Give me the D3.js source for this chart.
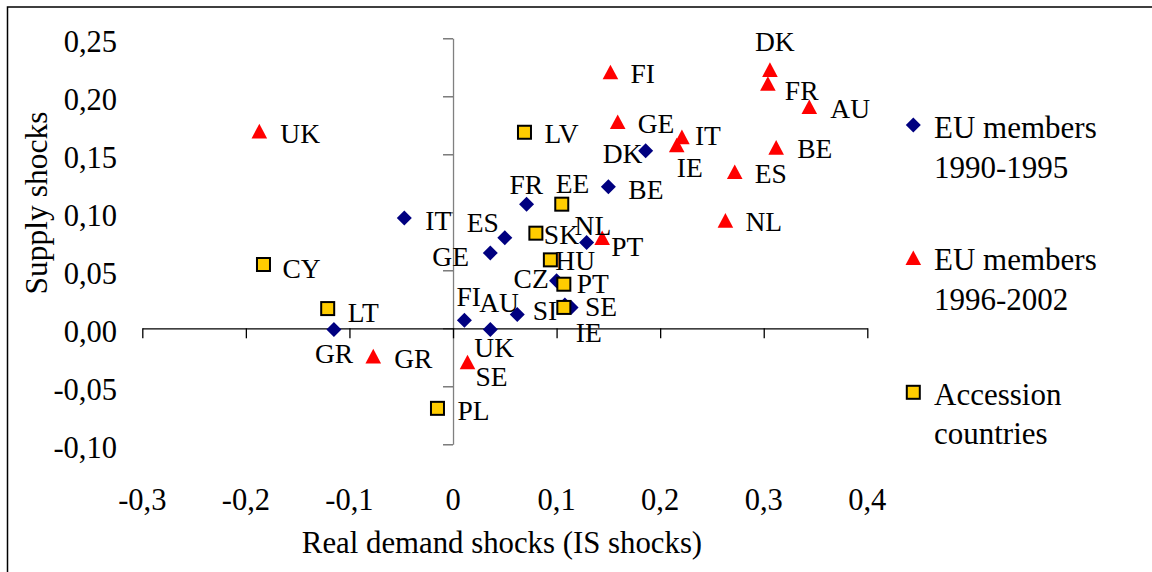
<!DOCTYPE html>
<html>
<head>
<meta charset="utf-8">
<script src="https://cdn.jsdelivr.net/npm/d3@7"></script>
<style>
  html, body { margin: 0; padding: 0; background: #fff; }
  svg { display: block; }
  text { font-family: "Liberation Serif", "Times New Roman", serif; fill: #000; }
</style>
</head>
<body>
<svg id="chart" width="1152" height="572"></svg>
<script>
// ---------- DATA ----------
const xTickValues = [-0.3, -0.2, -0.1, 0, 0.1, 0.2, 0.3, 0.4];
const yTickValues = [0.25, 0.20, 0.15, 0.10, 0.05, 0.00, -0.05, -0.10];

const seriesNames = ["EU members 1990-1995", "EU members 1996-2002", "Accession countries"];

// EU members 1990-1995 (diamonds)
const eu9095Countries = ["IT", "GR", "DK", "BE", "FR", "ES", "GE", "NL", "CZ", "IE", "SE", "FI", "AU", "UK"];
const eu9095Demand    = [-0.047, -0.115, 0.186, 0.150, 0.071, 0.050, 0.036, 0.129, 0.100, 0.108, 0.114, 0.011, 0.062, 0.036];
const eu9095Supply    = [0.095, -0.001, 0.153, 0.122, 0.107, 0.078, 0.065, 0.074, 0.041, 0.020, 0.018, 0.007, 0.012, -0.001];

// EU members 1996-2002 (triangles)
const eu9602Countries = ["UK", "GR", "SE", "FI", "DK", "FR", "AU", "GE", "IT", "IE", "BE", "ES", "NL", "PT"];
const eu9602Demand    = [-0.187, -0.077, 0.014, 0.152, 0.306, 0.304, 0.344, 0.159, 0.221, 0.216, 0.312, 0.272, 0.263, 0.144];
const eu9602Supply    = [0.170, -0.024, -0.029, 0.221, 0.223, 0.211, 0.191, 0.178, 0.165, 0.158, 0.156, 0.135, 0.093, 0.078];

// Accession countries (squares)
const accCountries = ["LV", "EE", "SK", "HU", "PT", "SI", "CY", "LT", "PL"];
const accDemand    = [0.069, 0.105, 0.080, 0.094, 0.107, 0.107, -0.183, -0.121, -0.015];
const accSupply    = [0.169, 0.107, 0.082, 0.059, 0.038, 0.018, 0.055, 0.017, -0.069];

// ---------- LAYOUT (label placement, separate from data) ----------
const eu9095LabelOffsets = [[21,12],[-19,34],[-43,12],[20,12],[-17,-10],[-38,-6],[-58,13],[-12,-7],[-43,7],[11,37],[14,9],[-8,-14],[-38,-2],[-16,28]];
const eu9602LabelOffsets = [[21,12],[21,12],[8,24],[20,11],[-15,-19],[17,16],[21,11],[20,11],[13,8],[0,32],[21,11],[20,11],[20,11],[9,18]];
const accLabelOffsets    = [[20,11],[-6,-11],[8,11],[5,10],[13,9],[-31,13],[19,13],[20,13],[20,12]];

// ---------- CHART ----------
const svg = d3.select("#chart");
const x = d3.scaleLinear().domain([-0.3, 0.4]).range([142.3, 867.3]);
const y = d3.scaleLinear().domain([-0.1, 0.25]).range([444.3, 38.3]);

const loc = d3.formatLocale({decimal: ",", thousands: ".", grouping: [3], currency: ["", ""], minus: "-"});
const fmtX = loc.format(".1~f");
const fmtY = loc.format(".2f");

// outer frame (only top and left edges visible)
svg.append("path")
  .attr("d", "M7.5,572 L7.5,7 L1152,7")
  .attr("fill", "none").attr("stroke", "#000").attr("stroke-width", 1.5);

// Y axis (through x = 0)
const yAxisG = svg.append("g")
  .attr("transform", `translate(${x(0)},0)`)
  .call(d3.axisLeft(y).tickValues(yTickValues).tickSize(10).tickSizeOuter(0).tickFormat(""));
yAxisG.select(".domain").attr("stroke", "#808080").attr("stroke-width", 1.3);
yAxisG.selectAll(".tick line").attr("stroke", "#666").attr("stroke-width", 1.3);

// X axis (through y = 0)
const xAxisG = svg.append("g")
  .attr("transform", `translate(0,${y(0)})`)
  .call(d3.axisBottom(x).tickValues(xTickValues).tickSize(10).tickSizeOuter(0).tickFormat(""));
xAxisG.select(".domain").attr("stroke", "#000").attr("stroke-width", 1.3);
xAxisG.selectAll(".tick line").attr("stroke", "#000").attr("stroke-width", 1.3);

// Tick labels
svg.append("g").selectAll("text").data(yTickValues).join("text")
  .attr("x", 117).attr("y", d => y(d) + 13.4)
  .attr("text-anchor", "end").attr("font-size", 30.5)
  .text(d => fmtY(d));

svg.append("g").selectAll("text").data(xTickValues).join("text")
  .attr("x", d => x(d)).attr("y", 510)
  .attr("text-anchor", "middle").attr("font-size", 30.5)
  .text(d => fmtX(d));

// Axis titles
svg.append("text").attr("x", 502).attr("y", 553).attr("text-anchor", "middle")
  .attr("font-size", 30.8).text("Real demand shocks (IS shocks)");
svg.append("text").attr("transform", "translate(47,203) rotate(-90)").attr("text-anchor", "middle")
  .attr("font-size", 31.5).text("Supply shocks");

// Marker shapes
const diamond = (cx, cy) => `M${cx},${cy-7.5} L${cx+7.5},${cy} L${cx},${cy+7.5} L${cx-7.5},${cy} Z`;
const triangle = (cx, cy) => `M${cx},${cy-7.3} L${cx+7.8},${cy+7.3} L${cx-7.8},${cy+7.3} Z`;

function makeRows(names, xs, ys, offs) {
  return names.map((n, i) => ({name: n, dx: xs[i], sy: ys[i], off: offs[i]}));
}
const s1 = makeRows(eu9095Countries, eu9095Demand, eu9095Supply, eu9095LabelOffsets);
const s2 = makeRows(eu9602Countries, eu9602Demand, eu9602Supply, eu9602LabelOffsets);
const s3 = makeRows(accCountries, accDemand, accSupply, accLabelOffsets);

const marks = svg.append("g");
marks.append("g").selectAll("path").data(s1).join("path")
  .attr("d", d => diamond(x(d.dx), y(d.sy))).attr("fill", "#000080");
marks.append("g").selectAll("path").data(s2).join("path")
  .attr("d", d => triangle(x(d.dx), y(d.sy))).attr("fill", "#FF0000");
marks.append("g").selectAll("rect").data(s3).join("rect")
  .attr("x", d => x(d.dx) - 6.5).attr("y", d => y(d.sy) - 6.5)
  .attr("width", 13).attr("height", 13)
  .attr("fill", "#FFCC00").attr("stroke", "#000").attr("stroke-width", 2);

// Point labels
const labels = svg.append("g").attr("font-size", 27.5);
[s1, s2, s3].forEach(s => {
  labels.append("g").selectAll("text").data(s).join("text")
    .attr("x", d => x(d.dx) + d.off[0])
    .attr("y", d => y(d.sy) + d.off[1])
    .text(d => d.name);
});

// Legend
const legendItems = [
  {lines: ["EU members", "1990-1995"], my: 125, ty: 138},
  {lines: ["EU members", "1996-2002"], my: 257.7, ty: 270},
  {lines: ["Accession", "countries"], my: 392.3, ty: 404.5}
];
const lg = svg.append("g");
legendItems.forEach((it, i) => {
  if (i === 0) lg.append("path").attr("d", diamond(913.3, it.my)).attr("fill", "#000080");
  if (i === 1) lg.append("path").attr("d", triangle(913.3, it.my)).attr("fill", "#FF0000");
  if (i === 2) lg.append("rect").attr("x", 913.3 - 6.5).attr("y", it.my - 6.5).attr("width", 13).attr("height", 13)
      .attr("fill", "#FFCC00").attr("stroke", "#000").attr("stroke-width", 2);
  it.lines.forEach((t, j) => {
    lg.append("text").attr("x", 934).attr("y", it.ty + j * 39.5).attr("font-size", 31).text(t);
  });
});
</script>
</body>
</html>
